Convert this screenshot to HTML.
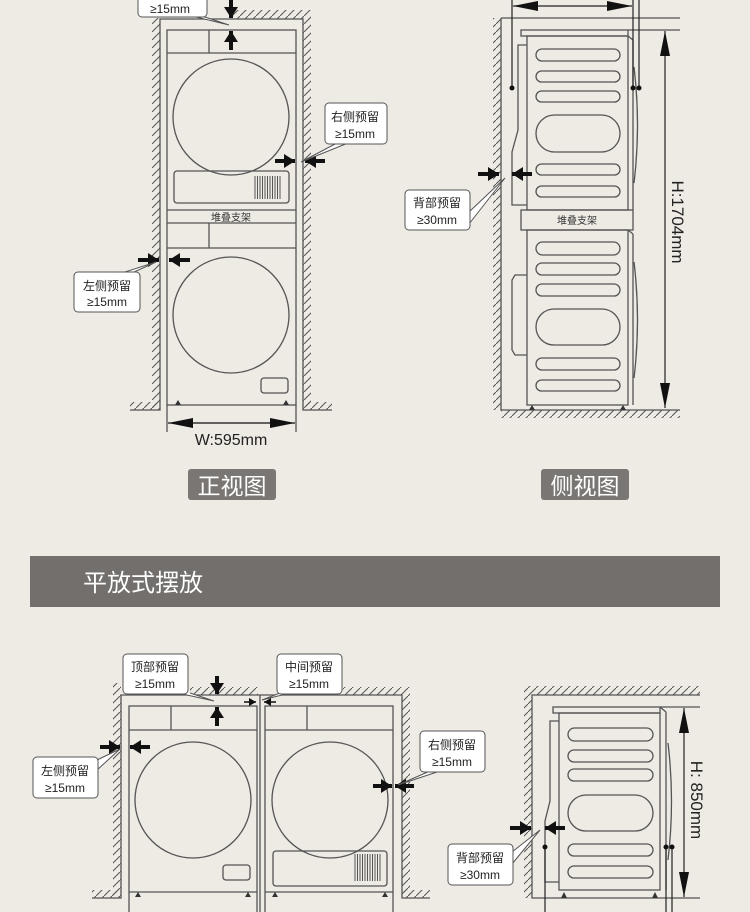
<!DOCTYPE html>
<html><head><meta charset="utf-8"><style>
html,body{margin:0;padding:0;background:#eeeae4;}
svg{display:block;}
text{font-family:"Liberation Sans","Noto Sans CJK SC",sans-serif;}
</style></head><body>
<svg width="750" height="912" viewBox="0 0 750 912" xmlns="http://www.w3.org/2000/svg">
<defs>
<pattern id="h" width="8" height="8" patternUnits="userSpaceOnUse">
<line x1="0" y1="8" x2="8" y2="0" stroke="#555" stroke-width="1"/>
</pattern>
<marker id="ah" markerUnits="userSpaceOnUse" markerWidth="12" markerHeight="14" refX="11" refY="7" orient="auto">
<path d="M0,0 L11,7 L0,14 Z" fill="#111"/></marker>
<marker id="da" markerUnits="userSpaceOnUse" markerWidth="26" markerHeight="10" refX="25" refY="5" orient="auto">
<path d="M0,0 L25,5 L0,10 Z" fill="#111"/></marker>
<marker id="ds" markerUnits="userSpaceOnUse" markerWidth="26" markerHeight="10" refX="1" refY="5" orient="auto">
<path d="M26,0 L1,5 L26,10 Z" fill="#111"/></marker>
<marker id="sa" markerUnits="userSpaceOnUse" markerWidth="8" markerHeight="8" refX="7" refY="4" orient="auto">
<path d="M0,0 L7,4 L0,8 Z" fill="#111"/></marker>
</defs>
<rect width="750" height="912" fill="#eeeae4"/>

<g fill="none" stroke="#555" stroke-width="1.3">
<rect x="152" y="18" width="8" height="392" fill="url(#h)" stroke="none"/>
<rect x="303" y="18" width="8" height="392" fill="url(#h)" stroke="none"/>
<rect x="232" y="10" width="79" height="9" fill="url(#h)" stroke="none"/>
<rect x="130" y="402" width="28" height="8" fill="url(#h)" stroke="none"/>
<rect x="306" y="402" width="26" height="8" fill="url(#h)" stroke="none"/>
<polyline points="130,410 160,410 160,19 303,19 303,410 332,410"/>
<rect x="167" y="30" width="129" height="375"/>
<line x1="167" y1="53" x2="296" y2="53"/><line x1="209" y1="30" x2="209" y2="53"/>
<circle cx="231" cy="117" r="58"/>
<rect x="174" y="171" width="115" height="32" rx="3"/>
<line x1="167" y1="210" x2="296" y2="210"/><line x1="167" y1="223" x2="296" y2="223"/>
<line x1="167" y1="248" x2="296" y2="248"/><line x1="209" y1="223" x2="209" y2="248"/>
<circle cx="231" cy="315" r="58"/>
<rect x="261" y="378" width="27" height="15" rx="3"/>
<line x1="167" y1="405" x2="167" y2="432"/><line x1="296" y1="405" x2="296" y2="432"/>
</g>
<g stroke="#555" stroke-width="1">
<line x1="255" y1="176" x2="255" y2="199"/><line x1="257.5" y1="176" x2="257.5" y2="199"/><line x1="260" y1="176" x2="260" y2="199"/><line x1="262.5" y1="176" x2="262.5" y2="199"/><line x1="265" y1="176" x2="265" y2="199"/><line x1="267.5" y1="176" x2="267.5" y2="199"/><line x1="270" y1="176" x2="270" y2="199"/><line x1="272.5" y1="176" x2="272.5" y2="199"/><line x1="275" y1="176" x2="275" y2="199"/><line x1="277.5" y1="176" x2="277.5" y2="199"/><line x1="280" y1="176" x2="280" y2="199"/>
</g>
<path d="M175,405 l3,-5 l3,5 Z M283,405 l3,-5 l3,5 Z" fill="#333"/>
<text x="231" y="221" font-size="10" text-anchor="middle" fill="#333">堆叠支架</text>
<line x1="168" y1="423" x2="295" y2="423" stroke="#111" stroke-width="1.3" marker-end="url(#da)" marker-start="url(#ds)"/>
<text x="231" y="445" font-size="16" text-anchor="middle" fill="#222">W:595mm</text>

<g stroke="#111" stroke-width="4">
<line x1="231" y1="0" x2="231" y2="18" marker-end="url(#ah)"/>
<line x1="231" y1="50" x2="231" y2="31" marker-end="url(#ah)"/>
<line x1="275" y1="161" x2="295" y2="161" marker-end="url(#ah)"/>
<line x1="325" y1="161" x2="305" y2="161" marker-end="url(#ah)"/>
<line x1="138" y1="260" x2="159" y2="260" marker-end="url(#ah)"/>
<line x1="190" y1="260" x2="169" y2="260" marker-end="url(#ah)"/>
</g>
<g fill="#fff" stroke="#555" stroke-width="1">
<path d="M192,16 L229,25 L202,16"/>
<rect x="138" y="-5" width="69" height="22" rx="4"/>
<path d="M337,143 L301,162 L348,143"/>
<rect x="325" y="103" width="62" height="41" rx="4"/>
<path d="M122,273 L156,262 L132,273"/>
<rect x="74" y="272" width="66" height="40" rx="4"/>
</g>
<text x="170" y="13" font-size="12" text-anchor="middle" fill="#222">≥15mm</text>
<text x="355" y="121" font-size="12" text-anchor="middle" fill="#222">右侧预留</text>
<text x="355" y="138" font-size="12" text-anchor="middle" fill="#222">≥15mm</text>
<text x="107" y="290" font-size="12" text-anchor="middle" fill="#222">左侧预留</text>
<text x="107" y="306" font-size="12" text-anchor="middle" fill="#222">≥15mm</text>

<g fill="none" stroke="#555" stroke-width="1.3">
<rect x="493" y="18" width="8" height="392" fill="url(#h)" stroke="none"/>
<rect x="501" y="410" width="179" height="8" fill="url(#h)" stroke="none"/>
<polyline points="501,18 501,410 680,410"/>
<line x1="501" y1="18" x2="680" y2="18"/>
<line x1="628" y1="30" x2="680" y2="30"/>
<rect x="521" y="30" width="107" height="6"/>
<rect x="527" y="36" width="101" height="174"/>
<rect x="527" y="230" width="101" height="175"/>
<rect x="521" y="210" width="112" height="20"/>
<line x1="628" y1="36" x2="633" y2="40"/><line x1="633" y1="40" x2="633" y2="210"/>
<line x1="628" y1="230" x2="633" y2="234"/><line x1="633" y1="234" x2="633" y2="405"/>
<path d="M634,67 q7,58 0,116"/><path d="M634,262 q7,58 0,116"/>
<path d="M527,45 h-9 v85 l-6,22 v53 h15"/>
<path d="M527,275 h-12 l-3,5 v70 l3,5 h12"/>
<rect x="536" y="49" width="84" height="12" rx="6"/><rect x="536" y="71" width="84" height="11" rx="5.5"/><rect x="536" y="91" width="84" height="11" rx="5.5"/>
<rect x="536" y="115" width="84" height="37" rx="18.5"/><rect x="536" y="164" width="84" height="11" rx="5.5"/><rect x="536" y="186" width="84" height="11" rx="5.5"/>
<rect x="536" y="242" width="84" height="13" rx="6.5"/><rect x="536" y="263" width="84" height="12" rx="6"/><rect x="536" y="284" width="84" height="12" rx="6"/>
<rect x="536" y="309" width="84" height="36" rx="18"/><rect x="536" y="358" width="84" height="12" rx="6"/><rect x="536" y="380" width="84" height="11" rx="5.5"/>
</g>
<path d="M529,410 l3,-5 l3,5 Z M620,410 l3,-5 l3,5 Z" fill="#333"/>
<text x="577" y="224" font-size="10" text-anchor="middle" fill="#333">堆叠支架</text>
<g stroke="#222" stroke-width="1.2">
<line x1="512" y1="0" x2="512" y2="88"/><line x1="633" y1="0" x2="633" y2="88"/><line x1="639" y1="0" x2="639" y2="88"/>
<line x1="513" y1="6" x2="632" y2="6" marker-end="url(#da)" marker-start="url(#ds)"/>
<line x1="665" y1="31" x2="665" y2="408" marker-end="url(#da)" marker-start="url(#ds)"/>
</g>
<circle cx="512" cy="88" r="2.5" fill="#111"/><circle cx="633" cy="88" r="2.5" fill="#111"/><circle cx="639" cy="88" r="2.5" fill="#111"/>
<text transform="translate(672,222) rotate(90)" font-size="17" text-anchor="middle" fill="#222">H:1704mm</text>
<g stroke="#111" stroke-width="4">
<line x1="478" y1="174" x2="499" y2="174" marker-end="url(#ah)"/>
<line x1="532" y1="174" x2="512" y2="174" marker-end="url(#ah)"/>
</g>
<g fill="#fff" stroke="#555" stroke-width="1">
<path d="M469,212 L505,178 L469,224"/>
<rect x="405" y="190" width="65" height="40" rx="4"/>
</g>
<text x="437" y="207" font-size="12" text-anchor="middle" fill="#222">背部预留</text>
<text x="437" y="224" font-size="12" text-anchor="middle" fill="#222">≥30mm</text>

<rect x="188" y="469" width="88" height="31" rx="3" fill="#7a7673"/>
<text x="232" y="494" font-size="23" text-anchor="middle" fill="#fff">正视图</text>
<rect x="541" y="469" width="88" height="31" rx="3" fill="#7a7673"/>
<text x="585" y="494" font-size="23" text-anchor="middle" fill="#fff">侧视图</text>
<rect x="30" y="556" width="690" height="51" fill="#736f6d"/>
<text x="83" y="591" font-size="24" fill="#fff">平放式摆放</text>

<g fill="none" stroke="#555" stroke-width="1.3">
<rect x="113" y="683" width="8" height="215" fill="url(#h)" stroke="none"/>
<rect x="402" y="695" width="8" height="203" fill="url(#h)" stroke="none"/>
<rect x="190" y="687" width="68" height="8" fill="url(#h)" stroke="none"/>
<rect x="343" y="687" width="67" height="8" fill="url(#h)" stroke="none"/>
<rect x="92" y="890" width="27" height="8" fill="url(#h)" stroke="none"/>
<rect x="404" y="890" width="26" height="8" fill="url(#h)" stroke="none"/>
<polyline points="92,898 121,898 121,695 402,695 402,898 430,898"/>
<rect x="129" y="706" width="128" height="220"/>
<line x1="129" y1="730" x2="257" y2="730"/><line x1="171" y1="706" x2="171" y2="730"/>
<circle cx="193" cy="800" r="58"/>
<rect x="223" y="865" width="27" height="15" rx="3"/>
<line x1="129" y1="892" x2="257" y2="892"/>
<line x1="260" y1="695" x2="260" y2="912"/>
<rect x="265" y="706" width="128" height="220"/>
<line x1="265" y1="730" x2="393" y2="730"/><line x1="307" y1="706" x2="307" y2="730"/>
<circle cx="330" cy="800" r="58"/>
<rect x="273" y="851" width="114" height="35" rx="3"/>
<line x1="265" y1="892" x2="393" y2="892"/>
</g>
<g stroke="#555" stroke-width="1">
<line x1="355" y1="854" x2="355" y2="881"/><line x1="357.5" y1="854" x2="357.5" y2="881"/><line x1="360" y1="854" x2="360" y2="881"/><line x1="362.5" y1="854" x2="362.5" y2="881"/><line x1="365" y1="854" x2="365" y2="881"/><line x1="367.5" y1="854" x2="367.5" y2="881"/><line x1="370" y1="854" x2="370" y2="881"/><line x1="372.5" y1="854" x2="372.5" y2="881"/><line x1="375" y1="854" x2="375" y2="881"/><line x1="377.5" y1="854" x2="377.5" y2="881"/><line x1="380" y1="854" x2="380" y2="881"/>
</g>
<path d="M135,897 l3,-5 l3,5 Z M245,897 l3,-5 l3,5 Z M272,897 l3,-5 l3,5 Z M382,897 l3,-5 l3,5 Z" fill="#333"/>
<g stroke="#111" stroke-width="4">
<line x1="217" y1="676" x2="217" y2="694" marker-end="url(#ah)"/>
<line x1="217" y1="726" x2="217" y2="707" marker-end="url(#ah)"/>
<line x1="100" y1="747" x2="120" y2="747" marker-end="url(#ah)"/>
<line x1="150" y1="747" x2="130" y2="747" marker-end="url(#ah)"/>
<line x1="373" y1="786" x2="392" y2="786" marker-end="url(#ah)"/>
<line x1="414" y1="786" x2="395" y2="786" marker-end="url(#ah)"/>
</g>
<g stroke="#111" stroke-width="1.5">
<line x1="244" y1="702" x2="256" y2="702" marker-end="url(#sa)"/>
<line x1="276" y1="702" x2="264" y2="702" marker-end="url(#sa)"/>
</g>
<g fill="#fff" stroke="#555" stroke-width="1">
<path d="M178,693 L214,701 L190,693"/>
<rect x="123" y="654" width="65" height="40" rx="4"/>
<path d="M280,693 L262,700 L290,693"/>
<rect x="277" y="654" width="65" height="40" rx="4"/>
<path d="M97,760 L120,749 L97,770"/>
<rect x="33" y="757" width="65" height="41" rx="4"/>
<path d="M430,771 L398,785 L440,771"/>
<rect x="420" y="731" width="65" height="41" rx="4"/>
</g>
<text x="155" y="671" font-size="12" text-anchor="middle" fill="#222">顶部预留</text>
<text x="155" y="688" font-size="12" text-anchor="middle" fill="#222">≥15mm</text>
<text x="309" y="671" font-size="12" text-anchor="middle" fill="#222">中间预留</text>
<text x="309" y="688" font-size="12" text-anchor="middle" fill="#222">≥15mm</text>
<text x="65" y="775" font-size="12" text-anchor="middle" fill="#222">左侧预留</text>
<text x="65" y="792" font-size="12" text-anchor="middle" fill="#222">≥15mm</text>
<text x="452" y="749" font-size="12" text-anchor="middle" fill="#222">右侧预留</text>
<text x="452" y="766" font-size="12" text-anchor="middle" fill="#222">≥15mm</text>

<g fill="none" stroke="#555" stroke-width="1.3">
<rect x="524" y="695" width="8" height="203" fill="url(#h)" stroke="none"/>
<rect x="524" y="686" width="176" height="9" fill="url(#h)" stroke="none"/>
<polyline points="700,695 532,695 532,898 700,898"/>
<rect x="553" y="707" width="107" height="6"/>
<rect x="559" y="713" width="101" height="177"/>
<line x1="660" y1="707" x2="666" y2="712"/><line x1="666" y1="712" x2="666" y2="890"/>
<path d="M668,743 q7,58 0,117"/>
<path d="M559,721 h-9 v80 l-5,20 v61 h14"/>
<line x1="660" y1="707" x2="700" y2="707"/>
<rect x="568" y="728" width="85" height="13" rx="6.5"/><rect x="568" y="750" width="85" height="12" rx="6"/><rect x="568" y="769" width="85" height="12" rx="6"/>
<rect x="568" y="795" width="85" height="36" rx="18"/><rect x="568" y="844" width="85" height="12" rx="6"/><rect x="568" y="866" width="85" height="12" rx="6"/>
</g>
<path d="M561,898 l3,-6 l3,6 Z M652,898 l3,-6 l3,6 Z" fill="#333"/>
<g stroke="#222" stroke-width="1.2">
<line x1="545" y1="847" x2="545" y2="912"/><line x1="666" y1="847" x2="666" y2="912"/><line x1="672" y1="847" x2="672" y2="912"/>
<line x1="684" y1="708" x2="684" y2="897" marker-end="url(#da)" marker-start="url(#ds)"/>
</g>
<circle cx="545" cy="847" r="2.5" fill="#111"/><circle cx="666" cy="847" r="2.5" fill="#111"/><circle cx="672" cy="847" r="2.5" fill="#111"/>
<text transform="translate(691,800) rotate(90)" font-size="17" text-anchor="middle" fill="#222">H: 850mm</text>
<g stroke="#111" stroke-width="4">
<line x1="510" y1="828" x2="531" y2="828" marker-end="url(#ah)"/>
<line x1="565" y1="828" x2="545" y2="828" marker-end="url(#ah)"/>
</g>
<g fill="#fff" stroke="#555" stroke-width="1">
<path d="M512,852 L540,830 L512,864"/>
<rect x="448" y="844" width="65" height="41" rx="4"/>
</g>
<text x="480" y="862" font-size="12" text-anchor="middle" fill="#222">背部预留</text>
<text x="480" y="879" font-size="12" text-anchor="middle" fill="#222">≥30mm</text>
</svg>
</body></html>
